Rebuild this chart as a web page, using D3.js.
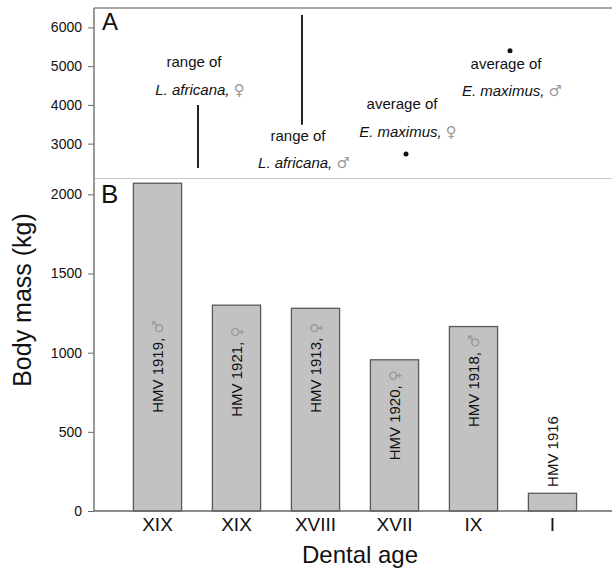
<!DOCTYPE html>
<html>
<head>
<meta charset="utf-8">
<script src="https://cdn.jsdelivr.net/npm/d3@7"></script>
<style>
  body { margin: 0; background: #fff; }
  text { font-family: "Liberation Sans", Arial, sans-serif; fill: #111; }
  .sym { font-family: "DejaVu Sans", sans-serif; fill: #999; }
</style>
</head>
<body>
<div id="chart"></div>
<script>
// bottom panel (B): body mass of the specimens
var dentalAge = ["XIX", "XIX", "XVIII", "XVII", "IX", "I"];
var specimen = ["HMV 1919", "HMV 1921", "HMV 1913", "HMV 1920", "HMV 1918", "HMV 1916"];
var sex = ["\u2642", "\u2640", "\u2640", "\u2640", "\u2642", ""];
var bodyMass = [2070, 1300, 1280, 955, 1165, 112];
// where the rotated label starts (kg)
var labelAt = [620, 595, 620, 320, 530, 152];

// top panel (A): reference values for living elephants
var refNames = ["L. africana", "L. africana", "E. maximus", "E. maximus"];
var refKind = ["range of", "range of", "average of", "average of"];
var refSex = ["\u2640", "\u2642", "\u2640", "\u2642"];
var refLow = [2370, 3490, 2730, 5400];
var refHigh = [4000, 6320, 2730, 5400];

var ticksTop = [3000, 4000, 5000, 6000];
var ticksBot = [0, 500, 1000, 1500, 2000];

var width = 612, height = 571;
var plotLeft = 94, plotTop = 8, plotSplit = 178.5, plotBottom = 511;

var svg = d3.select("#chart").append("svg")
    .attr("width", width)
    .attr("height", height);

var yTop = d3.scaleLinear().domain([2100, 6500]).range([plotSplit, plotTop]);
var yBot = d3.scaleLinear().domain([0, 2100]).range([plotBottom, plotSplit]);

var x = d3.scaleBand()
    .domain(d3.range(bodyMass.length))
    .range([118, 592])
    .paddingInner(0.39)
    .paddingOuter(0.195);

var xRef = d3.scalePoint()
    .domain(d3.range(refNames.length))
    .range([198, 510]);

// frame lines
svg.append("line")
    .attr("x1", plotLeft).attr("x2", width)
    .attr("y1", plotTop).attr("y2", plotTop)
    .attr("stroke", "#888").attr("stroke-width", 1.5);

svg.append("line")
    .attr("x1", plotLeft).attr("x2", width)
    .attr("y1", plotSplit).attr("y2", plotSplit)
    .attr("stroke", "#c8c8c8").attr("stroke-width", 1);

// bars
svg.selectAll(".bar")
    .data(bodyMass)
    .enter()
    .append("rect")
    .attr("class", "bar")
    .attr("x", (d, i) => x(i))
    .attr("width", x.bandwidth())
    .attr("y", d => yBot(d))
    .attr("height", d => yBot(0) - yBot(d))
    .attr("fill", "#c2c2c2")
    .attr("stroke", "#5a5a5a")
    .attr("stroke-width", 1.3);

// rotated bar labels
var lab = svg.selectAll(".blabel")
    .data(specimen)
    .enter()
    .append("text")
    .attr("class", "blabel")
    .attr("transform", (d, i) => "translate(" + (x(i) + x.bandwidth() / 2) + "," + yBot(labelAt[i]) + ")rotate(-90)")
    .attr("dy", "0.35em")
    .style("font-size", "15px");
lab.append("tspan").text((d, i) => d + (sex[i] ? ", " : ""));
lab.append("tspan").attr("class", "sym").text((d, i) => sex[i]);

// axes
var axisTop = d3.axisLeft(yTop).tickValues(ticksTop).tickSize(6).tickPadding(6).tickFormat(d3.format("d"));
var axisBot = d3.axisLeft(yBot).tickValues(ticksBot).tickSize(6).tickPadding(6).tickFormat(d3.format("d"));

[axisTop, axisBot].forEach(function(ax) {
    var g = svg.append("g")
        .attr("transform", "translate(" + plotLeft + ",0)")
        .call(ax);
    g.select(".domain").remove();
    g.selectAll("line").attr("stroke", "#666");
    g.selectAll("text")
        .style("font-size", "14px")
        .style("font-family", "Liberation Sans, Arial, sans-serif")
        .attr("fill", "#222");
});

svg.append("line")
    .attr("x1", plotLeft).attr("x2", plotLeft)
    .attr("y1", plotTop).attr("y2", plotBottom)
    .attr("stroke", "#777").attr("stroke-width", 1.5);

svg.append("line")
    .attr("x1", plotLeft).attr("x2", width)
    .attr("y1", plotBottom).attr("y2", plotBottom)
    .attr("stroke", "#666").attr("stroke-width", 1.5);

// x tick labels
var xAxis = svg.append("g")
    .attr("transform", "translate(0," + plotBottom + ")")
    .call(d3.axisBottom(x).tickSize(0).tickPadding(7).tickFormat(i => dentalAge[i]));
xAxis.select(".domain").remove();
xAxis.selectAll("text")
    .style("font-size", "19px")
    .style("font-family", "Liberation Sans, Arial, sans-serif")
    .attr("fill", "#111");

// panel letters
svg.append("text").attr("x", 102).attr("y", 30).style("font-size", "24px").text("A");
svg.append("text").attr("x", 101).attr("y", 203).style("font-size", "26px").text("B");

// axis titles
svg.append("text")
    .attr("transform", "translate(31,300)rotate(-90)")
    .attr("text-anchor", "middle")
    .style("font-size", "25px")
    .text("Body mass (kg)");

svg.append("text")
    .attr("x", 360)
    .attr("y", 563)
    .attr("text-anchor", "middle")
    .style("font-size", "24px")
    .text("Dental age");

// top panel marks: ranges as lines, averages as dots
refLow.forEach(function(lo, i) {
    var cx = xRef(i);
    if (refHigh[i] > lo) {
        svg.append("line")
            .attr("x1", cx).attr("x2", cx)
            .attr("y1", yTop(refHigh[i])).attr("y2", yTop(lo))
            .attr("stroke", "#222").attr("stroke-width", 2);
    } else {
        svg.append("circle")
            .attr("cx", cx).attr("cy", yTop(lo))
            .attr("r", 2.5)
            .attr("fill", "#111");
    }
});

// annotation text: above the mark (0, 2) or below it (1, 3)
var above = [true, false, true, false];
refNames.forEach(function(name, i) {
    var cx = xRef(i);
    var y1, y2;
    if (above[i]) {
        var yt = yTop(refHigh[i]);
        y2 = yt - (refHigh[i] > refLow[i] ? 10 : 17);
        y1 = y2 - 28;
    } else {
        var yb = yTop(refLow[i]);
        y1 = yb + (refHigh[i] > refLow[i] ? 16 : 18);
        y2 = y1 + 27;
    }
    svg.append("text")
        .attr("x", cx - 4).attr("y", y1)
        .attr("text-anchor", "middle")
        .style("font-size", "15px")
        .text(refKind[i]);
    var t = svg.append("text")
        .attr("x", cx + 2).attr("y", y2)
        .attr("text-anchor", "middle")
        .style("font-size", "15px");
    t.append("tspan").style("font-style", "italic").text(name + ", ");
    t.append("tspan").attr("class", "sym").text(refSex[i]);
});
</script>
</body>
</html>
